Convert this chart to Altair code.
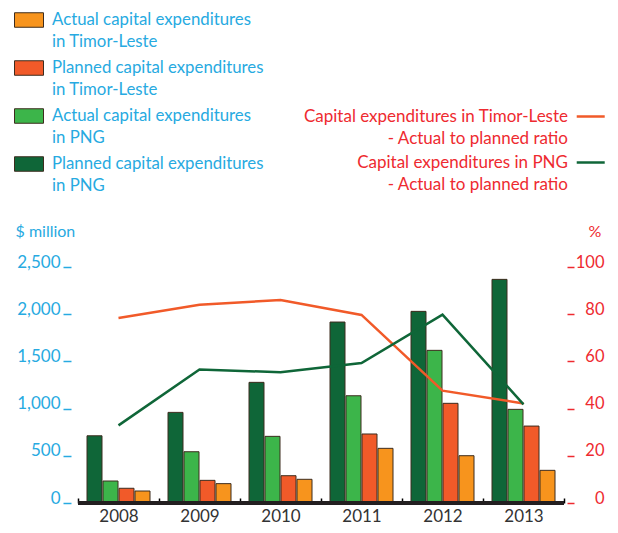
import altair as alt
import pandas as pd

years = ["2008", "2009", "2010", "2011", "2012", "2013"]
planned_png = [712, 960, 1278, 1917, 2030, 2369]
actual_png = [233, 543, 706, 1136, 1617, 992]
planned_tl = [156, 240, 289, 731, 1056, 815]
actual_tl = [127, 205, 251, 579, 501, 346]
ratio_tl = [78.4, 84.0, 86.0, 79.7, 47.6, 42.2]
ratio_png = [32.9, 56.6, 55.4, 59.3, 79.8, 41.8]

s_atl = "Actual capital expenditures|in Timor-Leste"
s_ptl = "Planned capital expenditures|in Timor-Leste"
s_apng = "Actual capital expenditures|in PNG"
s_ppng = "Planned capital expenditures|in PNG"
legend_order = [s_atl, s_ptl, s_apng, s_ppng]
bar_colors = ["#f7941d", "#f15a29", "#3cb54a", "#0f6638"]
bar_order = [s_ppng, s_apng, s_ptl, s_atl]

l_tl = "Capital expenditures in Timor-Leste|- Actual to planned ratio"
l_png = "Capital expenditures in PNG|- Actual to planned ratio"
line_series = [l_tl, l_png]
line_colors = ["#f15a29", "#0f6638"]

CYAN = "#27aae1"
RED = "#ee2a30"
FONT = "Lato"

rows = []
for name, vals in [(s_ppng, planned_png), (s_apng, actual_png), (s_ptl, planned_tl), (s_atl, actual_tl)]:
    for y, v in zip(years, vals):
        rows.append({"year": y, "series": name, "value": v})
bar_df = pd.DataFrame(rows)

lrows = []
for name, vals in [(l_tl, ratio_tl), (l_png, ratio_png)]:
    for y, v in zip(years, vals):
        lrows.append({"year": y, "series": name, "ratio": v})
line_df = pd.DataFrame(lrows)

x_scale = alt.Scale(paddingInner=0, paddingOuter=0)
x_axis = alt.Axis(title=None, labelAngle=0, labelColor="#333333", labelFont=FONT, labelFontSize=17,
                  tickBand="extent", tickSize=5, tickColor="black", tickWidth=1.5,
                  domain=False, offset=-5, labelBaseline="alphabetic", labelPadding=18)
yl_scale = alt.Scale(domain=[0, 2500])
yl_axis = alt.Axis(title="$ million", titleAngle=0, titleAlign="left", titleBaseline="alphabetic",
                   titleX=-56, titleY=-31, titleColor=CYAN, titleFont=FONT, titleFontSize=16,
                   titleFontWeight="normal", values=[0, 500, 1000, 1500, 2000, 2500],
                   labelExpr="format(datum.value, ',')",
                   labelColor=CYAN, labelFont=FONT, labelFontSize=17, labelBaseline="alphabetic",
                   labelPadding=3, labelFlush=False, tickColor=CYAN, tickSize=8, tickWidth=1.5,
                   domain=False, grid=False, offset=7)

bars = alt.Chart(bar_df).mark_bar(stroke="#3d2c1e", strokeWidth=1).encode(
    x=alt.X("year:N", title=None, scale=x_scale, axis=x_axis),
    xOffset=alt.XOffset("series:N", sort=bar_order,
                        scale=alt.Scale(paddingInner=0.0625, paddingOuter=0.5625)),
    y=alt.Y("value:Q", title="$ million", scale=yl_scale, axis=yl_axis),
    fill=alt.Fill("series:N", scale=alt.Scale(domain=legend_order, range=bar_colors),
                  legend=alt.Legend(title=None, orient="none", legendX=-64, legendY=-262,
                                    symbolType="M-1,-0.5H1V0.5H-1Z", symbolSize=841,
                                    symbolStrokeColor="#3d2c1e", symbolStrokeWidth=1,
                                    labelExpr="split(datum.label, '|')", labelFont=FONT, labelFontSize=16.8,
                                    labelColor=CYAN, labelOffset=8, labelLimit=400, rowPadding=2,
                                    padding=0)),
)

baseline = alt.Chart(bar_df).mark_rule(color="#231f20", strokeWidth=3).encode(
    y=alt.Y(datum=0, title="$ million", scale=yl_scale, axis=yl_axis)
)

lines = alt.Chart(line_df).mark_line(strokeWidth=2.5).encode(
    x=alt.X("year:N", title=None, scale=x_scale, axis=x_axis),
    y=alt.Y("ratio:Q", scale=alt.Scale(domain=[0, 100]),
            axis=alt.Axis(orient="right", title="%", titleAngle=0, titleAlign="left",
                          titleBaseline="alphabetic", titleX=21, titleY=-31, titleColor=RED,
                          titleFont=FONT, titleFontSize=16, titleFontWeight="normal",
                          values=[0, 20, 40, 60, 80, 100], labelColor=RED, labelFont=FONT,
                          labelFontSize=16.5, labelBaseline="alphabetic", labelAlign="right",
                          labelPadding=30, labelFlush=False, tickColor=RED, tickSize=7,
                          tickWidth=1.5, domain=False, grid=False, offset=3)),
    stroke=alt.Stroke("series:N", scale=alt.Scale(domain=line_series, range=line_colors),
                      legend=alt.Legend(title=None, orient="none", legendX=473, legendY=-159,
                                        symbolType="M2.46,0H6.46", symbolSize=196, symbolStrokeWidth=2.5,
                                        labelExpr="split(datum.label, '|')", labelFont=FONT,
                                        labelFontSize=17, labelColor=RED, labelAlign="right",
                                        labelOffset=0, labelLimit=400, rowPadding=6, padding=0)),
)

left = alt.layer(bars, baseline)
chart = alt.layer(left, lines).resolve_scale(y="independent", stroke="independent", fill="independent").properties(
    width=486, height=236,
    autosize=alt.AutoSizeParams(type="none"),
    padding={"left": 70, "top": 259, "right": 46, "bottom": 22},
).configure(style={"guide-label": {"lineHeight": 22}}).configure_view(strokeWidth=0)

chart.save("out.html", embed_options={"renderer": "svg", "actions": False})
